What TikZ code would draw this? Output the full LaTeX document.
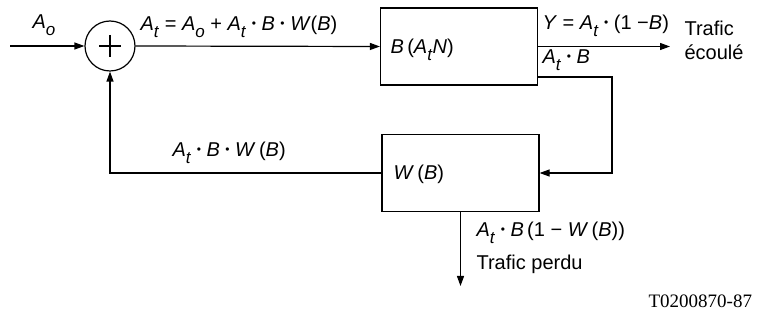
\documentclass[tikz,border=0pt]{standalone}
\usepackage{fontspec}
\setmainfont{Liberation Sans}
\newfontfamily\serf{Liberation Serif}
\usetikzlibrary{arrows.meta}
\newcommand\Ai{\textit{A}}
\newcommand\sbs[1]{\raisebox{-0.6ex}{\textit{\fontsize{17}{17}\selectfont #1}}}
\newcommand\pd{\ \raisebox{0.3ex}{\scalebox{0.6}{\textbullet}}\ }
\newcommand\lblfont{\fontsize{20}{24}\selectfont}
\begin{document}
\begin{tikzpicture}[x=1pt,y=-1pt, line width=1.2pt,
  arr/.style={-{Triangle[length=10pt,width=7pt]}},
  blk/.style={draw, minimum width=157pt, minimum height=77pt, inner sep=0pt},
  lbl/.style={inner sep=0pt, anchor=base west, font=\lblfont}]
\useasboundingbox (0,0) rectangle (768,320);
\node[circle, draw, minimum size=50pt, inner sep=0pt] (sum) at (110,46) {};
\draw (sum.center) ++(-11,0) -- ++(22,0);
\draw (sum.center) ++(0,-11) -- ++(0,22);
\coordinate (in) at (10,46);
\node[blk] (B) at (459,46.5) {};
\node[blk] (W) at (460.5,173) {};
\coordinate (out) at (670,46.5);
\coordinate (c1) at (612,77);
\coordinate (c2) at (612,173);
\coordinate (fb) at (110,173);
\coordinate (lost) at (460.5,286);
\draw[arr] (in) -- (sum.west);
\draw[arr] (sum.east) -- (B.west);
\draw[arr] (B.east) -- (out);
\draw[arr] (B.east |- c1) -- (c1) -- (c2) -- (W.east);
\draw[arr] (W.west) -- (fb) -- (sum.south);
\draw[arr] (W.south) -- (lost);
\node[lbl] (lAo) at (32,29) {\Ai\sbs{o}};
\node[lbl] (lAt) at (140,31) {\Ai\sbs{t}\ =\ \Ai\sbs{o}\ +\ \Ai\sbs{t}\pd\textit{B}\pd\textit{W}(\textit{B})};
\node[lbl] (lB) at (390,54) {\textit{B}\,(\Ai\sbs{t}\textit{N})};
\node[lbl] (lY) at (542,30) {\textit{Y}\ =\ \Ai\sbs{t}\pd(1\ −\textit{B})};
\node[lbl] (lAB) at (542,64) {\Ai\sbs{t}\pd\textit{B}};
\node[lbl] (tr1) at (684,36) {Trafic};
\node[lbl] (tr2) at (684,60) {écoulé};
\node[lbl] (lFb) at (172,157) {\Ai\sbs{t}\pd\textit{B}\pd\textit{W}\,(\textit{B})};
\node[lbl] (lW) at (393,180) {\textit{W}\,(\textit{B})};
\node[lbl] (lL) at (476,237) {\Ai\sbs{t}\pd\textit{B}\,(1\ −\ \textit{W}\,(\textit{B}))};
\node[lbl] (lP) at (476,270) {Trafic perdu};
\node[inner sep=0pt, anchor=base west, font=\fontsize{19}{22}\serf] (code) at (648,308) {T0200870-87};
\end{tikzpicture}
\end{document}
